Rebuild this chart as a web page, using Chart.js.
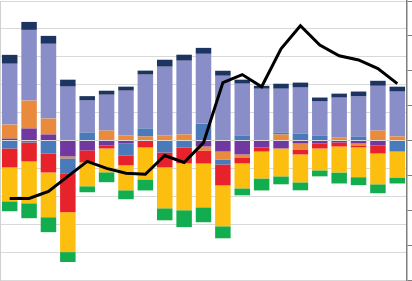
<!DOCTYPE html>
<html>
<head>
<meta charset="utf-8">
<script src="https://cdn.jsdelivr.net/npm/chart.js@4/dist/chart.umd.min.js"></script>
<style>
  html, body { margin: 0; padding: 0; background: #fff; }
  #wrap { width: 412px; height: 281px; }
</style>
</head>
<body>
<div id="wrap"><canvas id="chart"></canvas></div>
<script>
// categories (not shown in the picture)
var labels = ['1','2','3','4','5','6','7','8','9','10','11','12','13','14','15','16','17','18','19','20','21'];

// bar components, left axis
var purple   = [0.14, 0.86, 0.43, -1.14, -0.71, -0.36, -0.21, 0, 0, 0, -0.43, -0.79, -1.0, -0.5, -0.57, -0.21, -0.21, -0.14, -0.21, -0.36, 0];
var orange   = [1.0, 2.0, 1.14, -0.14, 0, 0.71, 0.36, 0.29, 0.36, 0.43, -0.29, -0.57, -0.21, 0, 0.43, -0.43, 0, 0.21, -0.14, 0.71, 0.29];
var blue     = [-0.57, -0.14, -0.93, -1.07, 0.57, 0, -0.86, 0.57, -0.86, -0.5, 1.21, -0.36, 0.36, 0, 0.14, 0.5, 0.36, 0, 0.29, 0, -0.79];
var red      = [-1.36, -1.36, -1.36, -2.79, -0.86, -0.21, -0.71, -0.5, -1.07, -1.14, -0.93, -1.5, -0.43, -0.29, 0, -0.36, -0.36, -0.29, -0.14, -0.57, 0];
var yellow   = [-2.43, -3.0, -3.21, -2.86, -1.71, -1.71, -1.79, -2.29, -2.93, -3.36, -3.14, -2.93, -1.79, -1.93, -2.0, -2.0, -1.57, -1.86, -2.14, -2.21, -1.86];
var green    = [-0.71, -1.07, -1.07, -0.71, -0.43, -0.71, -0.64, -0.79, -0.86, -1.21, -1.07, -0.86, -0.5, -0.86, -0.57, -0.57, -0.43, -0.79, -0.57, -0.64, -0.43];
var lavender = [4.36, 5.07, 5.36, 3.86, 2.29, 2.57, 3.21, 3.86, 4.93, 5.29, 5.0, 4.64, 3.71, 3.71, 3.14, 3.29, 2.43, 2.86, 2.86, 3.21, 3.21];
var navy     = [0.64, 0.57, 0.57, 0.5, 0.32, 0.29, 0.29, 0.29, 0.5, 0.43, 0.43, 0.36, 0.29, 0.21, 0.36, 0.36, 0.29, 0.29, 0.36, 0.36, 0.36];

// black line, right axis
var total = [-1.66, -1.66, -1.46, -1.03, -0.6, -0.8, -0.94, -0.97, -0.43, -0.63, -0.06, 1.66, 1.89, 1.54, 2.63, 3.29, 2.74, 2.43, 2.31, 2.06, 1.63];

// left / right axis ranges
var leftTicks = [-10, 10, 2];
var rightTicks = [-4, 4, 1];

function bar(data, color) {
  return { type: 'bar', data: data, backgroundColor: color, borderWidth: 0, yAxisID: 'y', order: 1 };
}

var ctx = document.getElementById('chart').getContext('2d');
var myChart = new Chart(ctx, {
  data: {
    labels: labels,
    datasets: [
      {
        type: 'line', data: total, yAxisID: 'y2', order: 0,
        borderColor: '#000', borderWidth: 3, pointRadius: 0, tension: 0, fill: false
      },
      bar(purple, '#7038a0'),
      bar(orange, '#e98a3c'),
      bar(blue, '#4a7ab9'),
      bar(red, '#e8222b'),
      bar(yellow, '#fcbf0f'),
      bar(green, '#12ad4f'),
      bar(lavender, '#8a8ec8'),
      bar(navy, '#1d3461')
    ]
  },
  options: {
    responsive: true,
    maintainAspectRatio: false,
    animation: false,
    layout: { padding: { top: 1, bottom: 1, left: 0, right: 0 } },
    datasets: { bar: { categoryPercentage: 1, barPercentage: 0.8 } },
    plugins: { legend: { display: false }, tooltip: { enabled: false } },
    scales: {
      x: { display: false, stacked: true },
      y: {
        stacked: true,
        min: leftTicks[0], max: leftTicks[1],
        ticks: { display: false, stepSize: leftTicks[2] },
        grid: { color: '#d9d9d9', drawTicks: false },
        border: { display: true, color: '#d0d0d0' }
      },
      y2: {
        position: 'right',
        min: rightTicks[0], max: rightTicks[1],
        ticks: { display: false, stepSize: rightTicks[2] },
        grid: { drawOnChartArea: false, drawTicks: true, tickLength: 5, tickColor: '#7f7f7f' },
        border: { display: true, color: '#7f7f7f', width: 1.5 }
      }
    }
  }
});
</script>
</body>
</html>
